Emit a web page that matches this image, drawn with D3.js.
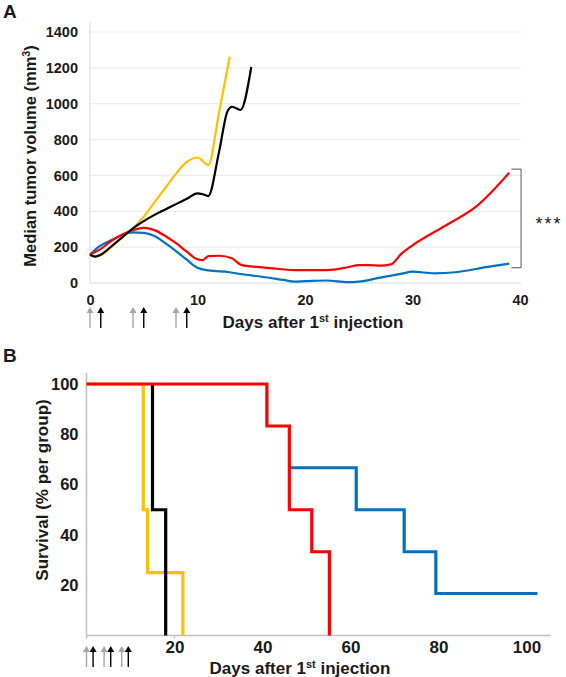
<!DOCTYPE html>
<html><head><meta charset="utf-8">
<script src="https://cdn.jsdelivr.net/npm/d3@7"></script>
<style>
html,body{margin:0;padding:0;background:#fff;}
svg text{font-family:"Liberation Sans",Arial,sans-serif;font-weight:bold;fill:#1a1a1a;}
</style></head>
<body>
<svg id="c" width="566" height="677"></svg>
<script>
// ---------- Panel A data: median tumor volume (mm3) ----------
const aYellowDays = [0,0.5,1,2,3,4,5,6,7,8,9,10,11,12,13];
const aYellowVals = [158,148,155,200,255,305,370,450,530,610,675,700,658,950,1262];
const aBlackDays = [0,0.5,1,2,3,4,5,6,7,8,9,10,10.5,11,12,12.8,13.2,13.6,14,15];
const aBlackVals = [158,147,158,205,255,305,345,380,410,440,470,500,495,485,730,960,983,975,965,1205];
const aRedDays = [0,1,2,3,4,5,6,7,8,9,10,10.5,11,12,13.2,14.1,15,17,19,22,24,25,26,27,28,29,30,33,36,39];
const aRedVals = [158,190,235,270,295,308,295,262,222,175,132,128,150,152,138,100,93,82,72,72,88,100,100,97,104,165,210,318,430,615];
const aBlueDays = [0,0.8,2,3,4,5,6,7,8,9,10,11,13,14,16,18,19,20,22,24,25,27,29,30,32,34,37,39];
const aBlueVals = [158,202,240,268,282,280,262,222,178,130,85,70,60,50,35,17,8,10,14,5,8,30,52,63,54,60,90,108];
const aYTicks = [0,200,400,600,800,1000,1200,1400];
const aXTicks = [0,10,20,30,40];
const graySchedule = [0,4,8];
const blackSchedule = [1,5,9];
const sigLow = 85, sigHigh = 635, sigLabel = "***";

// ---------- Panel B data: survival (%) ----------
const bYellowDays = [0,12.9,12.9,13.9,13.9,21.9,21.9];
const bYellowVals = [100,100,50,50,25,25,0];
const bBlackDays = [15,15,18,18];
const bBlackVals = [100,50,50,0];
const bBlueDays = [46.1,61.3,61.3,72.2,72.2,79.4,79.4,102.5];
const bBlueVals = [66.7,66.7,50,50,33.3,33.3,16.7,16.7];
const bRedDays = [0,41,41,46.1,46.1,51.2,51.2,55.2,55.2];
const bRedVals = [100,100,83.3,83.3,50,50,33.3,33.3,0];
const bYTicks = [20,40,60,80,100];
const bXTicks = [20,40,60,80,100];

const COL = {yellow:"#FFC000", black:"#000000", red:"#FF0000", blue:"#0070C0"};
const zip = (d,v)=>d.map((x,i)=>[x,v[i]]);

const svg = d3.select("#c");

// ================= PANEL A =================
const ax = d3.scaleLinear().domain([0,40]).range([90,520]);
const ay = d3.scaleLinear().domain([0,1400]).range([283,32]);
const gA = svg.append("g");

gA.selectAll("line.grid").data(aYTicks).join("line")
  .attr("x1",ax(0)).attr("x2",ax(40)+1)
  .attr("y1",d=>ay(d)).attr("y2",d=>ay(d))
  .attr("stroke",d=>d===0?"#d9d9d9":"#ececec").attr("stroke-width",1.2);
gA.append("line").attr("x1",ax(0)).attr("x2",ax(0)).attr("y1",22).attr("y2",ay(0))
  .attr("stroke","#e0e0e0").attr("stroke-width",1.2);

const ayAxis = d3.axisLeft(ay).tickValues(aYTicks).tickFormat(d3.format("d")).tickSize(0).tickPadding(12);
const gAy = gA.append("g").attr("transform",`translate(${ax(0)},0)`).call(ayAxis);
gAy.select(".domain").remove();
gAy.selectAll("text").style("font-size","14.5px").attr("font-family",null);
const axAxis = d3.axisBottom(ax).tickValues(aXTicks).tickFormat(d3.format("d")).tickSize(0).tickPadding(12);
const gAx = gA.append("g").attr("transform",`translate(0,${ay(0)})`).call(axAxis);
gAx.select(".domain").remove();
gAx.selectAll("text").style("font-size","14.5px").attr("font-family",null);

const lineA = d3.line().x(d=>ax(d[0])).y(d=>ay(d[1])).curve(d3.curveMonotoneX);
[[aBlueDays,aBlueVals,COL.blue],[aRedDays,aRedVals,COL.red],
 [aYellowDays,aYellowVals,COL.yellow],[aBlackDays,aBlackVals,COL.black]].forEach(([d,v,c])=>{
  gA.append("path").datum(zip(d,v)).attr("d",lineA).attr("fill","none")
    .attr("stroke",c).attr("stroke-width",2.2).attr("stroke-linejoin","round");
});

gA.append("path")
  .attr("d",`M${ax(39.2)},${ay(sigHigh)} H${ax(40.1)} V${ay(sigLow)} H${ax(39.2)}`)
  .attr("fill","none").attr("stroke","#555").attr("stroke-width",1);
gA.append("text").attr("x",549).attr("y",230).attr("text-anchor","middle")
  .style("font-size","18px").style("font-weight","normal").style("letter-spacing","2px")
  .text(sigLabel);

gA.append("text").attr("transform","translate(36,156) rotate(-90)").attr("text-anchor","middle")
  .style("font-size","16.5px")
  .call(t=>{t.append("tspan").text("Median tumor volume (mm");
            t.append("tspan").attr("dy",-6).style("font-size","10.5px").text("3");
            t.append("tspan").attr("dy",6).text(")");});
gA.append("text").attr("x",313).attr("y",328).attr("text-anchor","middle")
  .style("font-size","17px")
  .call(t=>{t.append("tspan").text("Days after 1");
            t.append("tspan").attr("dy",-6).style("font-size","11px").text("st");
            t.append("tspan").attr("dy",6).text(" injection");});
gA.append("text").attr("x",3).attr("y",18).style("font-size","19px").text("A");

function arrows(g, xs, days, color, yTop, yBot){
  days.forEach(d=>{
    const x = xs(d);
    g.append("line").attr("x1",x).attr("x2",x).attr("y1",yTop+5).attr("y2",yBot)
      .attr("stroke",color).attr("stroke-width",1.4);
    g.append("path").attr("d",`M${x-3.5},${yTop+6} L${x},${yTop} L${x+3.5},${yTop+6}Z`)
      .attr("fill",color);
  });
}
arrows(gA, ax, graySchedule, "#a6a6a6", 307, 328);
arrows(gA, ax, blackSchedule, "#000", 307, 328);

// ================= PANEL B =================
const bx = d3.scaleLinear().domain([0,100]).range([86.5,526.5]);
const by = d3.scaleLinear().domain([0,100]).range([635.5,384]);
const gB = svg.append("g");

gB.append("line").attr("x1",bx(0)).attr("x2",bx(105.5)).attr("y1",by(0)).attr("y2",by(0))
  .attr("stroke","#bfbfbf").attr("stroke-width",1.5);
gB.append("line").attr("x1",bx(0)).attr("x2",bx(0)).attr("y1",by(104.5)).attr("y2",by(0))
  .attr("stroke","#bfbfbf").attr("stroke-width",1.5);
gB.selectAll("line.xt").data([0,20]).join("line")
  .attr("x1",d=>bx(d)).attr("x2",d=>bx(d)).attr("y1",by(0)).attr("y2",by(0)+3)
  .attr("stroke","#bfbfbf").attr("stroke-width",1.5);

const byAxis = d3.axisLeft(by).tickValues(bYTicks).tickSize(0).tickPadding(8);
const gBy = gB.append("g").attr("transform",`translate(${bx(0)},0)`).call(byAxis);
gBy.select(".domain").remove();
gBy.selectAll("text").style("font-size","16.5px").attr("font-family",null);
const bxAxis = d3.axisBottom(bx).tickValues(bXTicks).tickSize(0).tickPadding(5);
const gBx = gB.append("g").attr("transform",`translate(0,${by(0)})`).call(bxAxis);
gBx.select(".domain").remove();
gBx.selectAll("text").style("font-size","17px").attr("font-family",null);

const lineB = d3.line().x(d=>bx(d[0])).y(d=>by(d[1]));
[[bBlueDays,bBlueVals,COL.blue],[bYellowDays,bYellowVals,COL.yellow],
 [bBlackDays,bBlackVals,COL.black],[bRedDays,bRedVals,COL.red]].forEach(([d,v,c])=>{
  gB.append("path").datum(zip(d,v)).attr("d",lineB).attr("fill","none")
    .attr("stroke",c).attr("stroke-width",3.2).attr("stroke-linejoin","miter");
});

gB.append("text").attr("transform","translate(48,490) rotate(-90)").attr("text-anchor","middle")
  .style("font-size","17px").text("Survival (% per group)");
gB.append("text").attr("x",300).attr("y",674).attr("text-anchor","middle")
  .style("font-size","17px")
  .call(t=>{t.append("tspan").text("Days after 1");
            t.append("tspan").attr("dy",-6).style("font-size","11px").text("st");
            t.append("tspan").attr("dy",6).text(" injection");});
gB.append("text").attr("x",3).attr("y",362).style("font-size","19px").text("B");

arrows(gB, bx, graySchedule, "#a6a6a6", 646, 667);
arrows(gB, bx, blackSchedule.map(d=>d+0.5), "#000", 646, 667);
</script>
</body></html>
